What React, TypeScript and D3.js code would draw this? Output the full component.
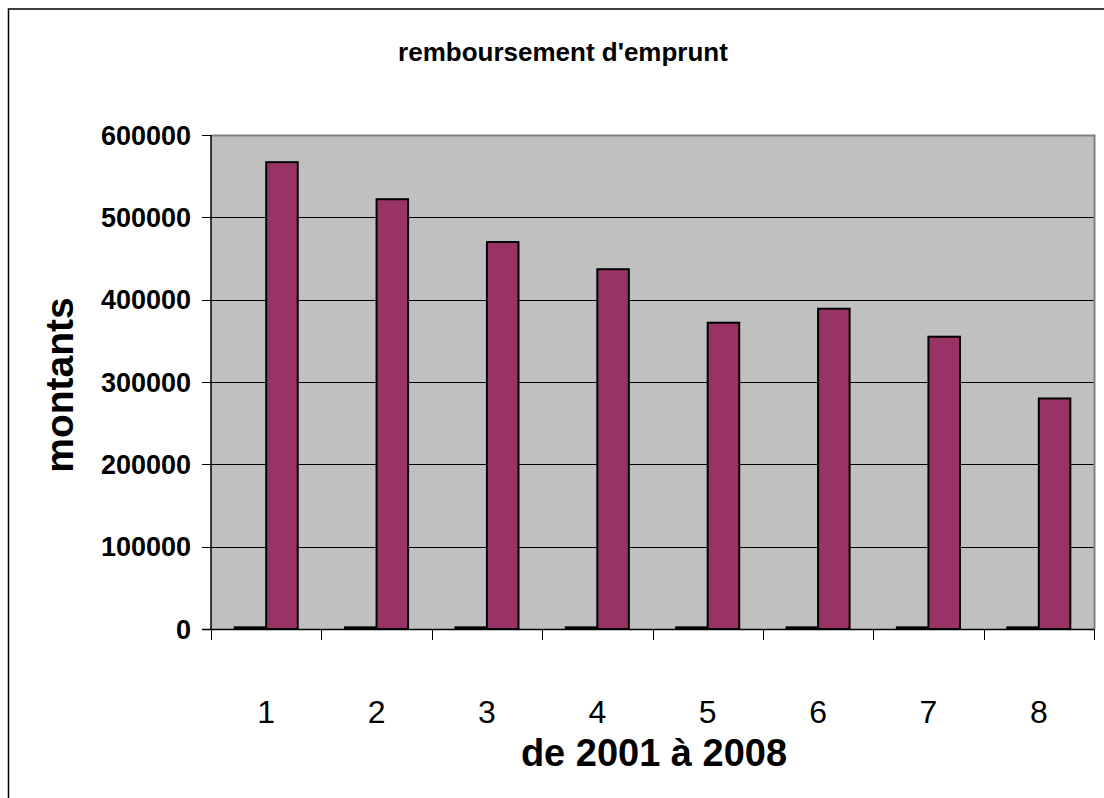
import * as d3 from "d3";
import React, { useEffect, useRef } from "react";

// données du graphique
const annees = ["1", "2", "3", "4", "5", "6", "7", "8"];
const serieAnnee = [2001, 2002, 2003, 2004, 2005, 2006, 2007, 2008];
const serieMontant = [567000, 522000, 470000, 437000, 372000, 389000, 355000, 280000];
const yTicks = [0, 100000, 200000, 300000, 400000, 500000, 600000];
const seriesNames = ["annee", "montant"];
const seriesColors = ["#9999FF", "#993366"];

const W = 1104;
const H = 798;

export default function App() {
  const svgRef = useRef<SVGSVGElement>(null);

  useEffect(() => {
    const svg = d3.select(svgRef.current);
    svg.selectAll("*").remove();

    const left = 211, right = 1094, top = 135, bottom = 629;
    const font = "Liberation Sans, Arial, sans-serif";

    // cadre extérieur (bords droit et bas hors image)
    svg.append("rect")
      .attr("x", 8.5).attr("y", 9)
      .attr("width", 1300).attr("height", 1000)
      .attr("fill", "#fff").attr("stroke", "#000").attr("stroke-width", 1.5);

    const x = d3.scaleBand().domain(annees).range([left, right]).padding(0);
    const xInner = d3.scaleBand().domain(seriesNames).range([0, x.bandwidth()])
      .paddingInner(0).paddingOuter(0.75);
    const y = d3.scaleLinear().domain([0, 600000]).range([bottom, top]);

    // zone de traçage
    svg.append("rect")
      .attr("x", left).attr("y", top)
      .attr("width", right - left).attr("height", bottom - top)
      .attr("fill", "#C0C0C0");

    // quadrillage
    svg.append("g").selectAll("line")
      .data(yTicks.filter(d => d > 0 && d < 600000))
      .enter().append("line")
      .attr("x1", left).attr("x2", right)
      .attr("y1", d => Math.round(y(d)) + 0.5).attr("y2", d => Math.round(y(d)) + 0.5)
      .attr("stroke", "#000").attr("stroke-width", 1);

    // bordure haut / droite
    svg.append("path")
      .attr("d", `M${left},${top + 0.5}H${right + 0.5}V${bottom}`)
      .attr("fill", "none").attr("stroke", "#808080").attr("stroke-width", 2);

    // barres
    const groups = svg.append("g").selectAll("g")
      .data(annees)
      .enter().append("g")
      .attr("transform", d => `translate(${x(d)},0)`);

    groups.selectAll("rect")
      .data((d, i) => [
        { key: "annee", value: serieAnnee[i] },
        { key: "montant", value: serieMontant[i] },
      ])
      .enter().append("rect")
      .attr("x", d => xInner(d.key)!)
      .attr("y", d => y(d.value))
      .attr("width", xInner.bandwidth())
      .attr("height", d => y(0) - y(d.value))
      .attr("fill", (d, i) => seriesColors[i])
      .attr("stroke", "#000").attr("stroke-width", 2);

    // axe Y
    const yAxis = svg.append("g").attr("transform", `translate(${left},0)`);
    yAxis.append("line")
      .attr("x1", 0).attr("x2", 0).attr("y1", top).attr("y2", bottom)
      .attr("stroke", "#000").attr("stroke-width", 1.5);
    yAxis.selectAll("line.tick")
      .data(yTicks).enter().append("line")
      .attr("class", "tick")
      .attr("x1", -9).attr("x2", 0)
      .attr("y1", d => Math.round(y(d)) + 0.5).attr("y2", d => Math.round(y(d)) + 0.5)
      .attr("stroke", "#000");
    yAxis.selectAll("text")
      .data(yTicks).enter().append("text")
      .attr("x", -20).attr("y", d => y(d))
      .attr("dy", "0.36em")
      .attr("text-anchor", "end")
      .style("font-family", font).style("font-weight", "bold").style("font-size", "27px")
      .text(d => String(d));

    // axe X
    const xAxis = svg.append("g").attr("transform", `translate(0,${bottom})`);
    xAxis.append("line")
      .attr("x1", left - 9).attr("x2", right).attr("y1", 0.5).attr("y2", 0.5)
      .attr("stroke", "#000").attr("stroke-width", 1.5);
    xAxis.selectAll("line.tick")
      .data(annees.concat(["end"])).enter().append("line")
      .attr("class", "tick")
      .attr("x1", (d, i) => Math.round(left + i * x.step()) + 0.5)
      .attr("x2", (d, i) => Math.round(left + i * x.step()) + 0.5)
      .attr("y1", 0).attr("y2", 11)
      .attr("stroke", "#000");
    xAxis.selectAll("text")
      .data(annees).enter().append("text")
      .attr("x", d => x(d)! + x.bandwidth() / 2)
      .attr("y", 94)
      .attr("text-anchor", "middle")
      .style("font-family", font).style("font-size", "32px")
      .text(d => d);

    // titres
    svg.append("text")
      .attr("x", 563).attr("y", 61)
      .attr("text-anchor", "middle")
      .style("font-family", font).style("font-weight", "bold").style("font-size", "26px")
      .text("remboursement d'emprunt");

    svg.append("text")
      .attr("transform", "translate(73,385) rotate(-90)")
      .attr("text-anchor", "middle")
      .style("font-family", font).style("font-weight", "bold").style("font-size", "39px")
      .text("montants");

    svg.append("text")
      .attr("x", 654).attr("y", 766)
      .attr("text-anchor", "middle")
      .style("font-family", font).style("font-weight", "bold").style("font-size", "38px")
      .text("de 2001 à 2008");
  }, []);

  return (
    <svg
      ref={svgRef}
      width={W}
      height={H}
      style={{ position: "absolute", left: 0, top: 0, background: "#fff" }}
    />
  );
}
